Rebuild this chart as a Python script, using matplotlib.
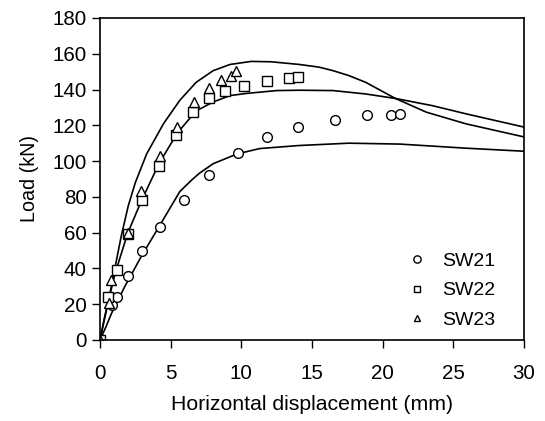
import matplotlib
matplotlib.use('Agg')
from matplotlib import pyplot as plt

plt.rcParams['font.family'] = ['Liberation Sans', 'DejaVu Sans']

# test results (markers)
sw21_x = [0, 0.87, 1.18, 1.95, 3.0, 4.28, 5.93, 7.72, 9.76, 11.8, 14.0, 16.6, 18.9, 20.6, 21.2]
sw21_y = [0, 19.5, 23.8, 35.8, 49.6, 63.4, 78, 92, 104.4, 113.3, 118.9, 123.2, 126, 125.8, 126.4]

sw22_x = [0, 0.59, 1.18, 1.95, 2.94, 4.19, 5.41, 6.59, 7.69, 8.87, 10.19, 11.83, 13.4, 14.0]
sw22_y = [0, 24.1, 39.4, 59.0, 78, 97.5, 114.7, 127.3, 135, 139, 142.1, 144.5, 146.4, 147.2]

sw23_x = [0, 0.66, 0.78, 2.0, 2.87, 4.23, 5.48, 6.63, 7.69, 8.59, 9.25, 9.65]
sw23_y = [0, 20.4, 33.8, 59.8, 83.2, 103.1, 119.3, 132.8, 140.8, 145.3, 147.7, 150.1]

# analysis curves
fe21_x = [0, 0.4, 0.82, 1.76, 2.94, 4.3, 5.65, 6.5, 7.0, 8.0, 9.7, 11.3, 14.1, 17.6, 21.2, 25.9, 30]
fe21_y = [0, 7, 15, 30, 47, 65, 83, 89.5, 93, 98.5, 104, 107, 108.7, 110, 109.5, 107.2, 105.5]

fe22_x = [0, 0.3, 0.6, 1.06, 1.95, 2.94, 4.2, 5.5, 6.8, 8.0, 9.2, 10.35, 12.5, 14.1, 16.5, 18.8, 20.9, 23.5, 25.9, 30]
fe22_y = [0, 11, 22, 37, 59.5, 78, 99, 116, 128, 133, 136.6, 137.8, 139.4, 139.6, 139.4, 137.5, 135, 131, 126.4, 119]

fe23_x = [0, 0.3, 0.6, 1.0, 1.5, 2.0, 2.5, 3.3, 4.5, 5.65, 6.8, 8.0, 9.2, 10.7, 12.1, 14.1, 15.5, 16.5, 17.6, 18.8, 20.9, 23.1, 25.9, 30]
fe23_y = [0, 12, 22, 38, 58, 75, 88, 104, 121, 134, 144, 150.5, 154, 155.7, 155.5, 154, 152.5, 150.5, 147.8, 144, 135, 127.3, 120.8, 113.5]

fig = plt.figure(figsize=(5.45, 4.21), dpi=100)
ax = fig.add_axes([0.1835, 0.1924, 0.778, 0.765])

for cx, cy in [(fe21_x, fe21_y), (fe22_x, fe22_y), (fe23_x, fe23_y)]:
    ax.plot(cx, cy, color='black', lw=1.2)

ax.plot(sw21_x, sw21_y, 'o', mfc='white', mec='black', ms=7, mew=1.0, label='SW21')
ax.plot(sw22_x, sw22_y, 's', mfc='white', mec='black', ms=6.5, mew=1.0, label='SW22')
ax.plot(sw23_x, sw23_y, '^', mfc='white', mec='black', ms=6.5, mew=1.0, label='SW23')

ax.set_xlim(0, 30)
ax.set_ylim(0, 180)
ax.set_xticks([0, 5, 10, 15, 20, 25, 30])
ax.set_yticks(range(0, 181, 20))
ax.tick_params(direction='out', length=6, width=1, labelsize=14.8, top=False, right=False)
ax.tick_params(axis='x', pad=11)
for s in ax.spines.values():
    s.set_linewidth(1.2)

ax.set_xlabel('Horizontal displacement (mm)', fontsize=15.3, labelpad=9)
ax.set_ylabel('Load (kN)', fontsize=14.2, labelpad=10)

ax.legend(loc='lower right', frameon=False, fontsize=14, markerscale=0.75,
          handletextpad=0.3, labelspacing=0.6, borderaxespad=0,
          bbox_to_anchor=(0.95, 0.011))

fig.savefig('out.png', dpi=100)
